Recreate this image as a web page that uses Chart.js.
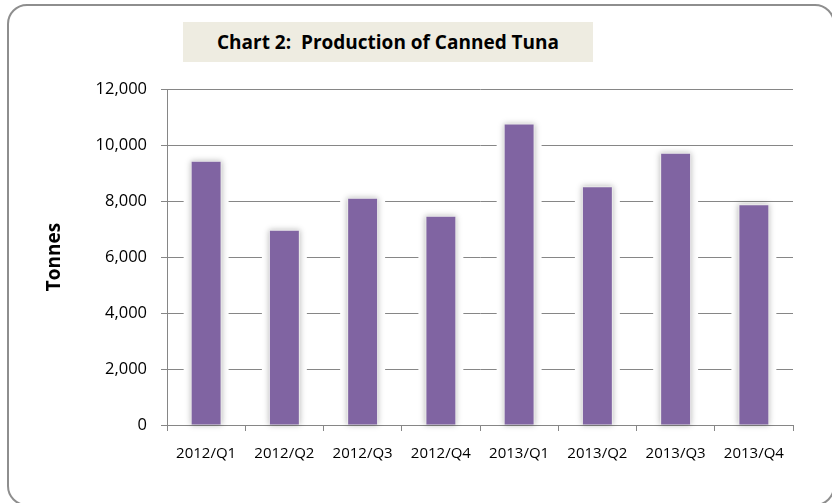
<!DOCTYPE html>
<html lang="en">
  <head>
    <meta charset="UTF-8" />
    <title>Production of Canned Tuna</title>
    <style>
      body {
        margin: 0;
        padding: 0;
        width: 832px;
        height: 503px;
        overflow: hidden;
        background-color: #ffffff;
        font-family: "Open Sans", sans-serif;
      }
      .frame {
        position: absolute;
        left: 7px;
        top: 4px;
        width: 828px;
        height: 502px;
        border: 2px solid #8e8e8e;
        border-radius: 20px;
        box-sizing: border-box;
      }
      .title {
        position: absolute;
        left: 183px;
        top: 22px;
        width: 410px;
        height: 40px;
        line-height: 40px;
        background-color: #eeece1;
        text-align: center;
        font-weight: bold;
        font-size: 19px;
        color: #000;
      }
      .chart-box {
        position: absolute;
        left: 0;
        top: 0;
        width: 832px;
        height: 503px;
      }
    </style>
  </head>
  <body>
    <div class="frame"></div>
    <div class="chart-box">
      <canvas id="tuna-chart" width="832" height="503"></canvas>
    </div>
    <div class="title">Chart 2:&nbsp; Production of Canned Tuna</div>

    <script src="https://cdn.jsdelivr.net/npm/chart.js@4.4.1/dist/chart.umd.min.js"></script>
    <script>
      const quarters = [
        "2012/Q1",
        "2012/Q2",
        "2012/Q3",
        "2012/Q4",
        "2013/Q1",
        "2013/Q2",
        "2013/Q3",
        "2013/Q4",
      ];
      const tonnes = [9400, 6940, 8080, 7440, 10730, 8490, 9690, 7850];
      const yTicks = [0, 2000, 4000, 6000, 8000, 10000, 12000];

      // white halo + soft grey glow behind each bar, like the Excel bar effect
      const barGlow = {
        id: "barGlow",
        beforeDatasetsDraw(chart) {
          const ctx = chart.ctx;
          const bars = chart.getDatasetMeta(0).data;
          ctx.save();
          bars.forEach((bar) => {
            const half = bar.width / 2;
            ctx.fillStyle = "#ffffff";
            ctx.fillRect(bar.x - half - 8, bar.y - 3, bar.width + 16, bar.base - bar.y + 3);
          });
          ctx.shadowColor = "rgba(0, 0, 0, 0.28)";
          ctx.shadowBlur = 6;
          ctx.fillStyle = "#ececec";
          bars.forEach((bar) => {
            const half = bar.width / 2;
            ctx.fillRect(bar.x - half - 1, bar.y - 1, bar.width + 2, bar.base - bar.y + 1);
          });
          ctx.restore();
        },
      };

      const ctx = document.getElementById("tuna-chart").getContext("2d");
      new Chart(ctx, {
        type: "bar",
        data: {
          labels: quarters,
          datasets: [
            {
              label: "Tonnes",
              data: tonnes,
              backgroundColor: "#8064a2",
              barPercentage: 0.37,
              categoryPercentage: 1.0,
            },
          ],
        },
        plugins: [barGlow],
        options: {
          responsive: false,
          animation: false,
          layout: {
            padding: { top: 89, right: 39, bottom: 0, left: 0 },
          },
          plugins: {
            legend: { display: false },
            tooltip: { enabled: false },
          },
          scales: {
            x: {
              grid: {
                offset: true,
                drawOnChartArea: false,
                drawTicks: true,
                tickLength: 6,
                color: "#868686",
              },
              border: { color: "#868686", width: 1 },
              ticks: {
                color: "#000",
                padding: 14,
                maxRotation: 0,
                autoSkip: false,
                font: { family: "Open Sans", size: 15 },
              },
              afterFit(scale) {
                scale.height = 78;
              },
            },
            y: {
              min: 0,
              max: 12000,
              afterBuildTicks(scale) {
                scale.ticks = yTicks.map((v) => ({ value: v }));
              },
              grid: {
                color: "#868686",
                tickLength: 6,
              },
              border: { color: "#868686", width: 1 },
              ticks: {
                color: "#000",
                padding: 14,
                font: { family: "Open Sans", size: 16.5 },
                callback: (v) => v.toLocaleString("en-US"),
              },
              title: {
                display: true,
                text: "Tonnes",
                color: "#000",
                font: { family: "Open Sans", size: 19, weight: "bold" },
                padding: { top: 43, bottom: 0 },
              },
              afterFit(scale) {
                scale.width = 167;
              },
            },
          },
        },
      });
    </script>
  </body>
</html>
